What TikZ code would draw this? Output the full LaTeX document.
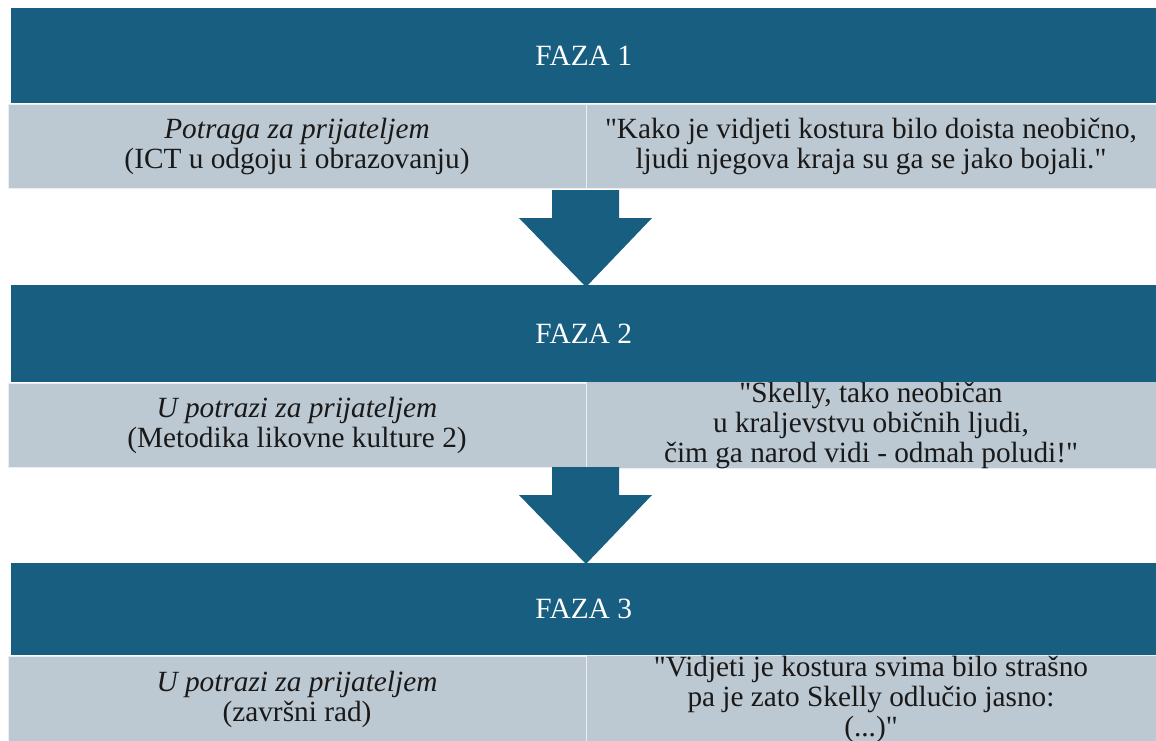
\documentclass[tikz,border=0pt]{standalone}
\usepackage{fontspec}
\setmainfont{Liberation Serif}[Ligatures=TeXOff]
\usepackage{xcolor}
\definecolor{fazablue}{HTML}{175E80}
\definecolor{cellgray}{HTML}{BCC8D2}

\tikzset{
    fazabar/.style={fill=fazablue, text=white, anchor=north west, inner sep=0pt,
        minimum width=1145pt, font=\fontsize{29.4}{30}\selectfont},
    cell/.style={fill=cellgray, draw=white!70!cellgray, line width=1pt, align=center,
        inner sep=0pt, text=black!90, font=\fontsize{29.3}{30}\selectfont},
}

\begin{document}
\begin{tikzpicture}[x=1pt,y=-1pt]
            \clip (0,0) rectangle (1156,740);
            \fill[white] (0,0) rectangle (1156,740);
            % faza 1
            \node[cell, minimum width=578pt, minimum height=84pt] (left1) at (297,146) {\textit{Potraga za prijateljem}\\(ICT u odgoju i obrazovanju)};
            \node[cell, minimum width=570pt, minimum height=84pt] (right1) at (871,146) {"Kako je vidjeti kostura bilo doista neobično,\\ljudi njegova kraja su ga se jako bojali."};
            \node[fazabar, minimum height=95pt] (faza1) at (11,8) {FAZA 1};
            % faza 2
            \node[cell, minimum width=578pt, minimum height=84pt] (left2) at (297,425) {\textit{U potrazi za prijateljem}\\(Metodika likovne kulture 2)};
            \node[cell, minimum width=570pt, minimum height=84pt] (right2) at (871,425) {"Skelly, tako neobičan\\u kraljevstvu običnih ljudi,\\čim ga narod vidi - odmah poludi!"};
            \node[fazabar, minimum height=97pt] (faza2) at (11,285) {FAZA 2};
            % faza 3
            \node[cell, minimum width=578pt, minimum height=86pt] (left3) at (297,699) {\textit{U potrazi za prijateljem}\\(završni rad)};
            \node[cell, minimum width=570pt, minimum height=86pt] (right3) at (871,699) {"Vidjeti je kostura svima bilo strašno\\pa je zato Skelly odlučio jasno:\\(...)"};
            \node[fazabar, minimum height=92pt] (faza3) at (11,563) {FAZA 3};
            % arrows between the phases
            \foreach \y in {190,467}
                \fill[fazablue] (552,\y) -- (619,\y) -- (619,\y+28) -- (652,\y+28) -- (586,\y+97) -- (519,\y+28) -- (552,\y+28) -- cycle;
        \end{tikzpicture}
\end{document}
